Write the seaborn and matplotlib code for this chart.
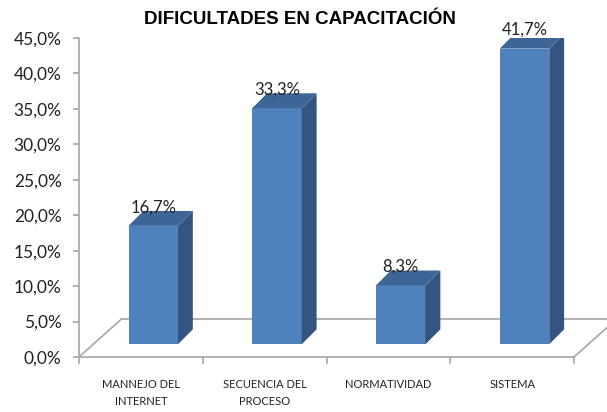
import matplotlib
matplotlib.use("Agg")
import matplotlib.pyplot as plt
import seaborn as sns
from matplotlib.patches import Polygon
from matplotlib.ticker import FuncFormatter

# Data
categories = ["MANNEJO DEL\nINTERNET", "SECUENCIA DEL\nPROCESO", "NORMATIVIDAD", "SISTEMA"]
values = [16.7, 33.3, 8.3, 41.7]
value_labels = ["16,7%", "33,3%", "8,3%", "41,7%"]

front_col = "#4F81BD"
side_col = "#345582"
top_col = "#3D6696"
line_col = "#A6A6A6"

sns.set_style("white")
plt.rcParams['font.family'] = ['Lato', 'DejaVu Sans']

fig = plt.figure(figsize=(6.07, 4.12), dpi=100)
ax = fig.add_axes([79 / 607, 1 - 357 / 412, (574 - 79) / 607, (357 - 38) / 412])

sns.barplot(x=categories, y=values, color=front_col, width=0.4, saturation=1,
            ax=ax, zorder=3)

# fake 3D: lift bars off the floor, add side and top faces
base = 1.8
shift = 0.1
dx, dy = 0.12, 2.1
for p in ax.patches[:]:
    p.set_x(p.get_x() + shift)
    p.set_y(base)
    p.set_edgecolor("none")
    l = p.get_x()
    r = l + p.get_width()
    t = base + p.get_height()
    side = Polygon([(r, base), (r + dx, base + dy), (r + dx, t + dy), (r, t)],
                   closed=True, facecolor=side_col, edgecolor="none", zorder=3)
    top = Polygon([(l, t), (l + dx, t + dy), (r + dx, t + dy), (r, t)],
                  closed=True, facecolor=top_col, edgecolor="none", zorder=3)
    ax.add_patch(side)
    ax.add_patch(top)

# value labels
for i, (v, lab) in enumerate(zip(values, value_labels)):
    ax.text(i + shift, base + v + dy - 0.6, lab, ha="center", va="bottom",
            fontsize=12, color="#222222", zorder=5)

# floor outline
fy = 5.3
fdx = 0.34
ax.plot([-0.5, -0.5 + fdx], [0, fy], color=line_col, lw=1.2, zorder=1, clip_on=False)
ax.plot([-0.5 + fdx, 3.5 + fdx], [fy, fy], color=line_col, lw=1.2, zorder=1, clip_on=False)
ax.plot([3.5, 3.5 + fdx], [0, fy], color=line_col, lw=1.2, zorder=1, clip_on=False)

ax.set_xlim(-0.5, 3.5)
ax.set_ylim(0, 45)
ax.set_yticks(range(0, 46, 5))
ax.yaxis.set_major_formatter(FuncFormatter(lambda v, _: f"{v:.1f}%".replace(".", ",")))
ax.tick_params(axis="y", left=True, length=4.5, width=1.2, color=line_col,
               labelsize=12.5, labelcolor="#222222", pad=8)
ax.set_xticks([-0.5, 0.5, 1.5, 2.5, 3.5], minor=True)
ax.tick_params(axis="x", which="minor", bottom=True, length=5, width=1.2, color=line_col)
ax.tick_params(axis="x", which="major", bottom=False, length=0, pad=16,
               labelsize=8, labelcolor="#222222")
for lbl in ax.get_xticklabels():
    lbl.set_linespacing(1.6)
    lbl.set_va("top")

for s in ["top", "right"]:
    ax.spines[s].set_visible(False)
for s in ["left", "bottom"]:
    ax.spines[s].set_color(line_col)
    ax.spines[s].set_linewidth(1.2)
ax.set_xlabel("")
ax.set_ylabel("")

fig.text(300 / 607, 1 - 20 / 412, "DIFICULTADES EN CAPACITACIÓN", ha="center", va="center",
         fontsize=13.5, fontweight="bold", color="black",
         family=["Liberation Sans", "DejaVu Sans"])

fig.savefig("out.png", dpi=100, facecolor="white")
